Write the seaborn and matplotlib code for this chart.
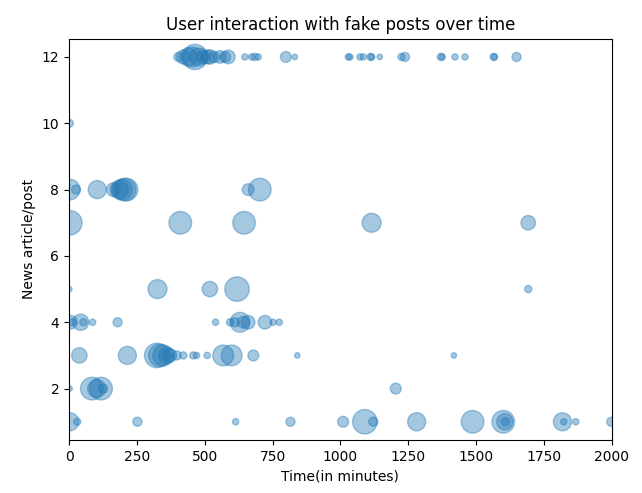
import matplotlib
matplotlib.use("Agg")
import matplotlib.pyplot as plt
import seaborn as sns
import pandas as pd

# News article/post id -> (time in minutes, interaction weight)
post12_time = [403, 420, 440, 455, 464, 478, 495, 510, 519, 535, 556, 575, 587, 648, 673, 685, 697,
               799, 832, 1029, 1035, 1072, 1084, 1111, 1115, 1145, 1225, 1238, 1370, 1375, 1422,
               1459, 1565, 1567, 1649]
post12_weight = [52, 117, 207, 251, 406, 207, 117, 117, 133, 75, 100, 75, 117, 25, 25, 33, 25,
                 75, 19, 25, 25, 25, 25, 33, 25, 19, 33, 52, 33, 25, 25,
                 25, 33, 25, 52]
post10_time = [1]
post10_weight = [42]
post8_time = [2, 26, 104, 163, 185, 195, 205, 212, 660, 703]
post8_weight = [274, 52, 207, 117, 207, 274, 324, 324, 88, 324]
post7_time = [3, 410, 645, 1115, 1692]
post7_weight = [378, 324, 324, 228, 133]
post5_time = [1, 326, 519, 619, 1692]
post5_weight = [19, 228, 150, 378, 33]
post4_time = [6, 12, 43, 53, 87, 179, 540, 593, 611, 630, 642, 660, 722, 752, 775]
post4_weight = [117, 33, 168, 33, 25, 52, 25, 33, 52, 251, 88, 117, 117, 25, 25]
post3_time = [38, 215, 323, 335, 347, 360, 372, 397, 421, 458, 470, 509, 568, 599, 679, 841, 1418]
post3_weight = [150, 207, 378, 324, 274, 168, 117, 52, 33, 33, 25, 25, 274, 274, 75, 19, 19]
post2_time = [2, 84, 102, 118, 126, 1204]
post2_weight = [19, 324, 207, 324, 52, 75]
post1_time = [3, 30, 252, 614, 816, 1010, 1090, 1121, 1281, 1487, 1600, 1606, 1608, 1818, 1823,
              1867, 1998]
post1_weight = [207, 33, 52, 25, 52, 75, 378, 52, 207, 324, 324, 168, 42, 207, 25,
                25, 52]

rows = []
for post, times, weights in [
    (12, post12_time, post12_weight), (10, post10_time, post10_weight),
    (8, post8_time, post8_weight), (7, post7_time, post7_weight),
    (5, post5_time, post5_weight), (4, post4_time, post4_weight),
    (3, post3_time, post3_weight), (2, post2_time, post2_weight),
    (1, post1_time, post1_weight)]:
    for t, w in zip(times, weights):
        rows.append({"time": t, "post": post, "weight": w})
df = pd.DataFrame(rows)

fig = plt.figure(figsize=(6.42, 4.93), dpi=100)
ax = fig.add_axes([0.1075, 0.1075, 0.8455, 0.814])

wmin, wmax = df["weight"].min(), df["weight"].max()
scale = 0.82
sns.scatterplot(data=df, x="time", y="post", size="weight",
                sizes=(wmin * scale, wmax * scale), size_norm=(wmin, wmax),
                color="C0", alpha=0.4, edgecolor="C0", linewidth=1.0,
                legend=False, ax=ax)

ax.set_xlim(0, 2000)
ax.set_ylim(0.45, 12.55)
ax.set_xticks([0, 250, 500, 750, 1000, 1250, 1500, 1750, 2000])
ax.set_yticks([2, 4, 6, 8, 10, 12])
ax.set_title("User interaction with fake posts over time", fontsize=12)
ax.set_xlabel("Time(in minutes)", fontsize=10)
ax.set_ylabel("News article/post", fontsize=10)

fig.savefig("out.png", dpi=100)
